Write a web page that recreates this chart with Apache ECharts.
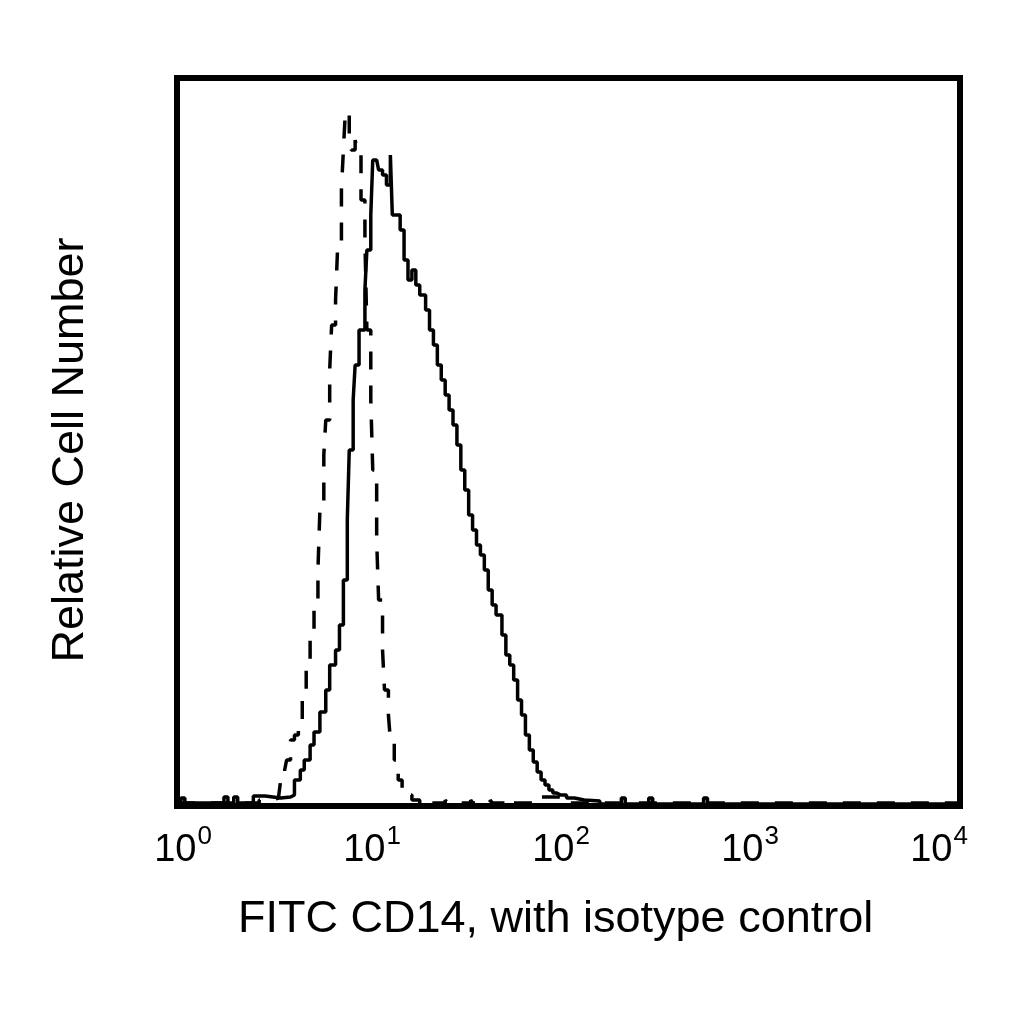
<!DOCTYPE html>
<html>
<head>
<meta charset="utf-8">
<script src="https://cdn.jsdelivr.net/npm/echarts@6/dist/echarts.min.js"></script>
<style>
  html, body { margin: 0; padding: 0; background: #fff; }
  #chart { width: 1024px; height: 1024px; }
</style>
</head>
<body>
<div id="chart"></div>
<script>
// x = log10 of FITC intensity (decades), y = cells per channel
const cd14Log = [0.00,0.02,0.04,0.24,0.26,0.29,0.31,0.39,0.45,0.53,0.58,0.60,0.63,0.65,0.68,0.70,0.73,0.76,0.78,0.81,0.83,0.85,0.87,0.88,0.90,0.91,0.93,0.96,0.97,0.99,1.00,1.02,1.03,1.05,1.07,1.09,1.10,1.12,1.14,1.16,1.18,1.20,1.22,1.24,1.27,1.29,1.31,1.33,1.35,1.37,1.39,1.41,1.43,1.45,1.47,1.49,1.51,1.53,1.55,1.57,1.59,1.61,1.63,1.66,1.68,1.70,1.72,1.74,1.76,1.78,1.80,1.82,1.84,1.86,1.88,1.90,1.92,1.94,1.96,1.99,2.03,2.08,2.16,2.27,2.29,2.41,2.43,2.69,2.71,4.00];
const cd14Count = [3,8,3,9,3,9,3,10,8,9,11,26,36,46,61,74,94,116,141,156,181,226,286,356,406,441,476,516,556,591,646,646,636,631,621,651,591,591,576,546,526,536,521,511,496,476,461,441,426,411,396,381,361,336,316,291,276,261,251,236,216,201,191,171,151,141,126,106,91,71,56,44,34,26,21,16,13,11,11,8,6,5,2,8,2,8,2,8,2,2];

const isoLog = [0.00,0.40,0.42,0.48,0.52,0.53,0.55,0.56,0.58,0.60,0.62,0.64,0.66,0.68,0.70,0.72,0.73,0.75,0.76,0.78,0.79,0.81,0.82,0.84,0.85,0.86,0.88,0.89,0.91,0.92,0.94,0.96,0.97,0.99,1.00,1.02,1.03,1.05,1.06,1.08,1.09,1.11,1.13,1.15,1.17,1.20,1.24,1.29,1.30,1.37,1.38,1.50,1.51,1.60,1.61,1.70,1.71,1.85,1.95,1.97,4.00];
const isoCount = [3,3,6,8,11,26,36,46,66,71,86,116,141,171,206,236,296,351,386,436,481,506,556,616,656,694,666,656,666,656,606,566,476,406,336,266,206,156,116,91,66,46,26,18,11,6,3,6,3,6,3,6,3,6,3,7,3,9,8,3,2];

const tickExponents = ['0', '1', '2', '3', '4'];
const yMax = 728;

const FONT = '"Liberation Sans", Arial, Helvetica, sans-serif';
const zip = (xs, ys) => xs.map((x, i) => [x, ys[i]]);

const chart = echarts.init(document.getElementById('chart'));

const options = {
  animation: false,
  backgroundColor: '#fff',
  grid: [
    { left: 177, right: 64, top: 78, bottom: 218, show: true, borderColor: '#000', borderWidth: 6, backgroundColor: 'transparent' },
    // label-only grid: the printed decade labels sit slightly inside the frame ticks
    { left: 183, right: 85, top: 78, bottom: 218, show: false }
  ],
  xAxis: [
    {
      type: 'value', gridIndex: 0, min: 0, max: 4, interval: 1,
      axisLine: { show: false }, axisTick: { show: false },
      axisLabel: { show: false }, splitLine: { show: false }
    },
    {
      type: 'value', gridIndex: 1, min: 0, max: 4, interval: 1,
      axisLine: { show: false }, axisTick: { show: false }, splitLine: { show: false },
      axisLabel: {
        margin: 18,
        fontFamily: FONT, fontSize: 38, color: '#000',
        formatter: v => '{b|10}{s|' + tickExponents[v] + '}',
        rich: {
          b: { fontFamily: FONT, fontSize: 38, color: '#000', lineHeight: 46, verticalAlign: 'bottom' },
          s: { fontFamily: FONT, fontSize: 26, color: '#000', lineHeight: 26, verticalAlign: 'top', padding: [0, 0, 0, 1] }
        }
      }
    }
  ],
  yAxis: [
    { type: 'value', gridIndex: 0, min: 0, max: yMax, show: false, splitLine: { show: false } },
    { type: 'value', gridIndex: 1, min: 0, max: yMax, show: false, splitLine: { show: false } }
  ],
  graphic: [
    {
      type: 'text', left: 238, top: 897,
      style: { text: 'FITC CD14, with isotype control', font: '45px ' + FONT, fill: '#000' }
    },
    {
      type: 'text', x: 71, y: 450, rotation: Math.PI / 2,
      style: { text: 'Relative Cell Number', font: '45px ' + FONT, fill: '#000', align: 'center', verticalAlign: 'middle' }
    }
  ],
  series: [
    {
      name: 'FITC CD14', type: 'line', xAxisIndex: 0, yAxisIndex: 0,
      data: zip(cd14Log, cd14Count), step: 'end', symbol: 'none',
      lineStyle: { color: '#000', width: 3.5 }
    },
    {
      name: 'Isotype control', type: 'line', xAxisIndex: 0, yAxisIndex: 0,
      data: zip(isoLog, isoCount), step: 'end', symbol: 'none',
      lineStyle: { color: '#000', width: 3.5, type: [18, 16] }
    }
  ]
};

chart.setOption(options);
</script>
</body>
</html>
